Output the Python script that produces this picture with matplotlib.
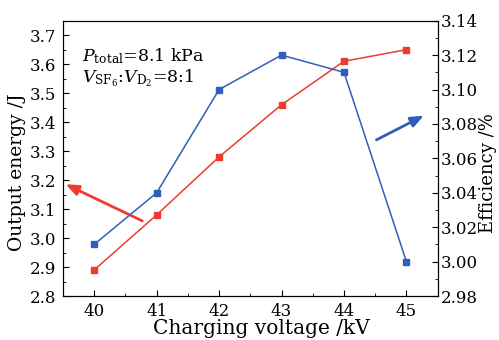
import numpy as np
import matplotlib
matplotlib.use("Agg")
import matplotlib.pyplot as plt
from matplotlib.ticker import MultipleLocator

plt.rcParams["font.family"] = "DejaVu Serif"
plt.rcParams["mathtext.fontset"] = "dejavuserif"

# data
voltage = [40, 41, 42, 43, 44, 45]  # kV
energy = [2.89, 3.08, 3.28, 3.46, 3.61, 3.65]  # J
efficiency = [3.010, 3.040, 3.100, 3.120, 3.110, 3.000]  # %

red = "#ee3a30"
blue = "#2f5fb8"
fs = 12

fig = plt.figure(figsize=(4.99, 3.40), dpi=100)
ax = fig.add_axes([0.1263, 0.1294, 0.7507, 0.8097])
ax2 = ax.twinx()

ax.plot(voltage, energy, "-s", color=red, lw=1.1, ms=4.5)
ax2.plot(voltage, efficiency, "-s", color=blue, lw=1.1, ms=4.5)

ax.set_xlim(39.5, 45.5)
ax.set_ylim(2.8, 3.75)
ax2.set_ylim(2.98, 3.14)

ax.xaxis.set_major_locator(MultipleLocator(1))
ax.xaxis.set_minor_locator(MultipleLocator(0.5))
ax.yaxis.set_major_locator(MultipleLocator(0.1))
ax.yaxis.set_minor_locator(MultipleLocator(0.05))
ax2.yaxis.set_major_locator(MultipleLocator(0.02))
ax2.yaxis.set_minor_locator(MultipleLocator(0.01))
ax.yaxis.set_major_formatter(plt.FormatStrFormatter("%.1f"))
ax2.yaxis.set_major_formatter(plt.FormatStrFormatter("%.2f"))

ax.tick_params(axis="both", which="both", direction="in", labelsize=fs)
ax.tick_params(axis="both", which="major", length=4, pad=5)
ax.tick_params(axis="both", which="minor", length=2.5)
ax.tick_params(axis="x", pad=5)
ax2.tick_params(axis="y", which="both", direction="in", labelsize=fs, pad=2)
ax2.tick_params(axis="y", which="major", length=4)
ax2.tick_params(axis="y", which="minor", length=2.5)

ax.set_ylabel("Output energy /J", fontsize=13.5)
ax.yaxis.set_label_coords(-0.099, 0.45)
ax2.set_ylabel("Efficiency /%", fontsize=13)
ax2.yaxis.set_label_coords(1.11, 0.445)
ax.set_xlabel("Charging voltage /kV", fontsize=14.5)
ax.xaxis.set_label_coords(0.53, -0.085)

ax.text(39.8, 3.628, r"$P_{\rm total}$=8.1 kPa", fontsize=12.5, va="center")
ax.text(39.8, 3.552, r"$V_{\rm SF_6}$:$V_{\rm D_2}$=8:1", fontsize=12.5, va="center")

ax.annotate("", xy=(39.5, 3.19), xytext=(40.81, 3.055),
            arrowprops=dict(arrowstyle="-|>,head_length=0.55,head_width=0.22",
                            color=red, lw=2, mutation_scale=14))
ax2.annotate("", xy=(45.32, 3.0856), xytext=(44.48, 3.070),
             arrowprops=dict(arrowstyle="-|>,head_length=0.55,head_width=0.22",
                             color=blue, lw=2, mutation_scale=14))

fig.savefig("out.png", dpi=100)
